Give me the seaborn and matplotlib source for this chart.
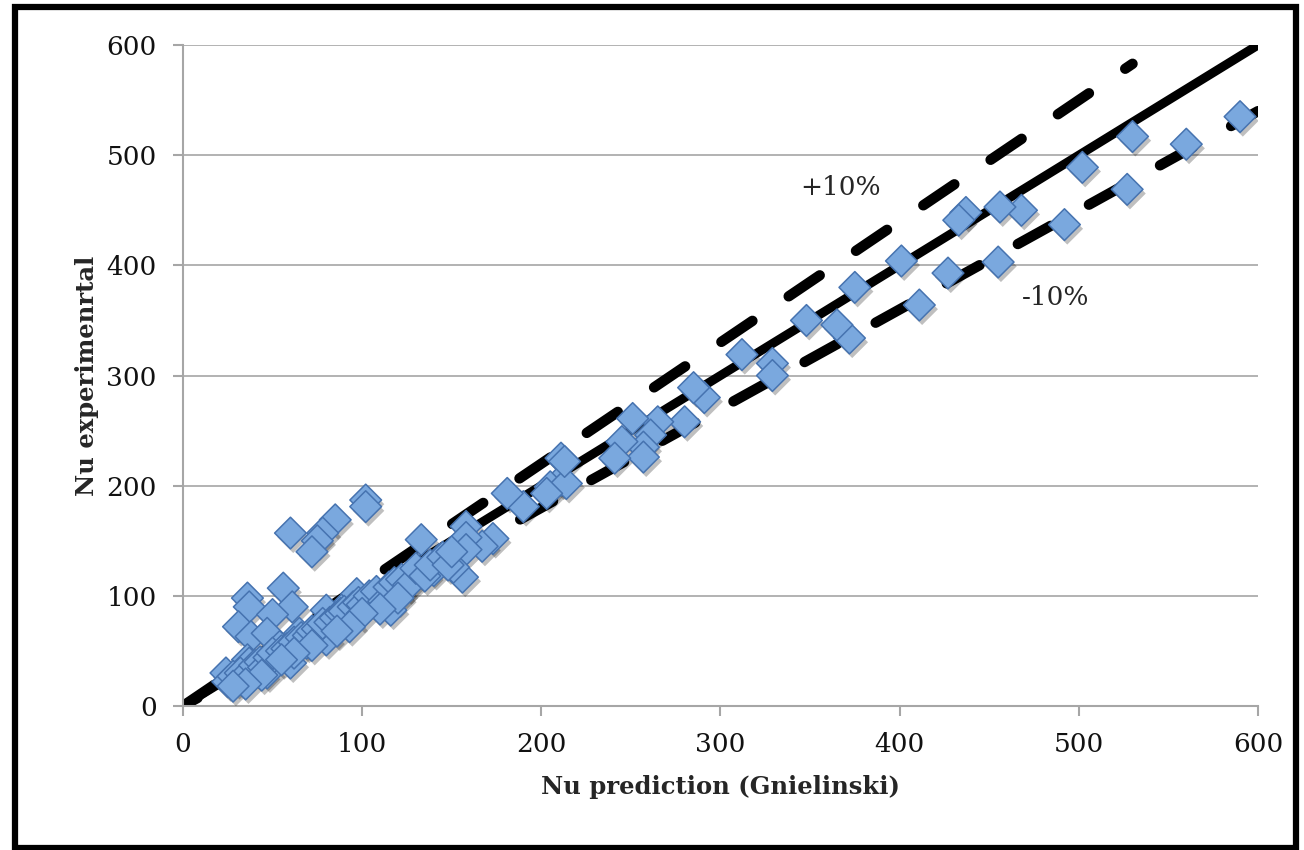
import matplotlib
matplotlib.use("Agg")
import matplotlib.pyplot as plt
import matplotlib.patheffects as pe
from matplotlib.patches import Rectangle
import pandas as pd
import seaborn as sns

# measured points (Nu prediction, Nu experimental)
nu_pred = [590, 560, 530, 527, 502, 492, 468, 456, 455, 437, 433, 427, 411, 401,
           375, 372, 365, 348, 329, 329, 312, 291, 285, 280, 265, 251, 261, 257,
           245, 257, 241, 211, 211, 205, 214, 213, 203, 190, 181,
           173, 167, 158, 158, 158, 156, 151, 143, 140, 133, 127, 121, 116, 110, 106,
           102, 102, 85, 78, 75, 72, 60,
           36, 37, 56, 61, 50, 31, 38, 47, 36, 37, 24, 30, 88, 76, 69, 54, 52, 41,
           92, 97, 80, 65, 80, 60, 47,
           25, 28, 32, 35, 40, 43, 45, 48, 50, 55, 58, 62, 66, 70, 72, 75, 78, 82,
           85, 88, 90, 95, 98, 100, 104, 108, 112, 115, 118, 122, 126, 130, 135,
           138, 145, 148, 150, 120, 110, 100, 93, 86, 72, 62, 55, 44, 35, 28]
nu_exp = [535, 510, 517, 469, 489, 437, 450, 453, 403, 448, 441, 393, 364, 404,
          380, 334, 346, 350, 311, 300, 319, 280, 289, 258, 258, 261, 246, 235,
          240, 226, 225, 225, 205, 199, 202, 222, 193, 181, 193,
          152, 145, 163, 153, 142, 117, 126, 133, 123, 151, 114, 102, 87, 99, 96,
          187, 181, 169, 157, 150, 140, 157,
          98, 90, 107, 90, 83, 72, 63, 66, 42, 39, 30, 24, 78, 72, 57, 54, 45, 33,
          93, 102, 87, 66, 60, 39, 30,
          22, 27, 30, 28, 37, 40, 35, 44, 48, 50, 52, 58, 62, 64, 68, 70, 75, 76,
          80, 84, 86, 90, 94, 92, 100, 104, 95, 108, 112, 115, 110, 125, 118,
          128, 135, 128, 140, 98, 88, 84, 72, 68, 55, 48, 42, 28, 20, 18]

# reference lines: y = x, +10 %, -10 %
line_x = [0, 600]
line_y = [0, 600]
plus_x = [0, 530]
plus_y = [0, 583]
minus_x = [0, 600]
minus_y = [0, 540]

df = pd.DataFrame({"pred": nu_pred, "exp": nu_exp})

sns.set_theme(style="white")
plt.rcParams["font.family"] = ["DejaVu Serif"]

fig = plt.figure(figsize=(13.04, 8.5), dpi=100)
ax = fig.add_axes([0.1403, 0.1694, 0.8244, 0.7776])

grey = "#a6a6a6"
ax.set_axisbelow(True)
ax.yaxis.grid(True, color=grey, lw=1.2)
ax.xaxis.grid(False)

ax.plot(line_x, line_y, color="black", lw=6.5, solid_capstyle="round")
ax.plot(plus_x, plus_y, color="black", lw=7.5, dash_capstyle="round",
        linestyle=(0, (3.6, 4.2)))
ax.plot(minus_x, minus_y, color="black", lw=7.5, dash_capstyle="round",
        linestyle=(2, (3.6, 4.2)))

sc = sns.scatterplot(data=df, x="pred", y="exp", marker="D", s=260,
                     color="#7aa8de", edgecolor="#4673b0", linewidth=1.1,
                     ax=ax, zorder=5)
sc.collections[0].set_path_effects([
    pe.SimplePatchShadow(offset=(2, -3), shadow_rgbFace="black", alpha=0.25),
    pe.Normal()])

ax.set_xlim(0, 600)
ax.set_ylim(0, 600)
ax.set_xticks(range(0, 601, 100))
ax.set_yticks(range(0, 601, 100))

for s in ["top", "right"]:
    ax.spines[s].set_visible(False)
for s in ["left", "bottom"]:
    ax.spines[s].set_color(grey)
    ax.spines[s].set_linewidth(1.5)
ax.tick_params(axis="both", which="major", direction="out", length=7,
               width=1.5, color=grey, labelsize=19, labelcolor="#111111",
               left=True, bottom=True, pad=12)

ax.set_xlabel("Nu prediction (Gnielinski)", fontsize=17.5, fontweight="bold",
              labelpad=13)
ax.set_ylabel("Nu experimenrtal", fontsize=17.5, fontweight="bold", labelpad=5)

ax.text(367, 471, "+10%", fontsize=19, ha="center", va="center")
ax.text(487, 371, "-10%", fontsize=19, ha="center", va="center")

fig.patches.append(Rectangle((0.0113, 0.0029), 0.9829, 0.9883,
                             transform=fig.transFigure, fill=False,
                             edgecolor="black", lw=4.5))

fig.savefig("out.png", dpi=100)
